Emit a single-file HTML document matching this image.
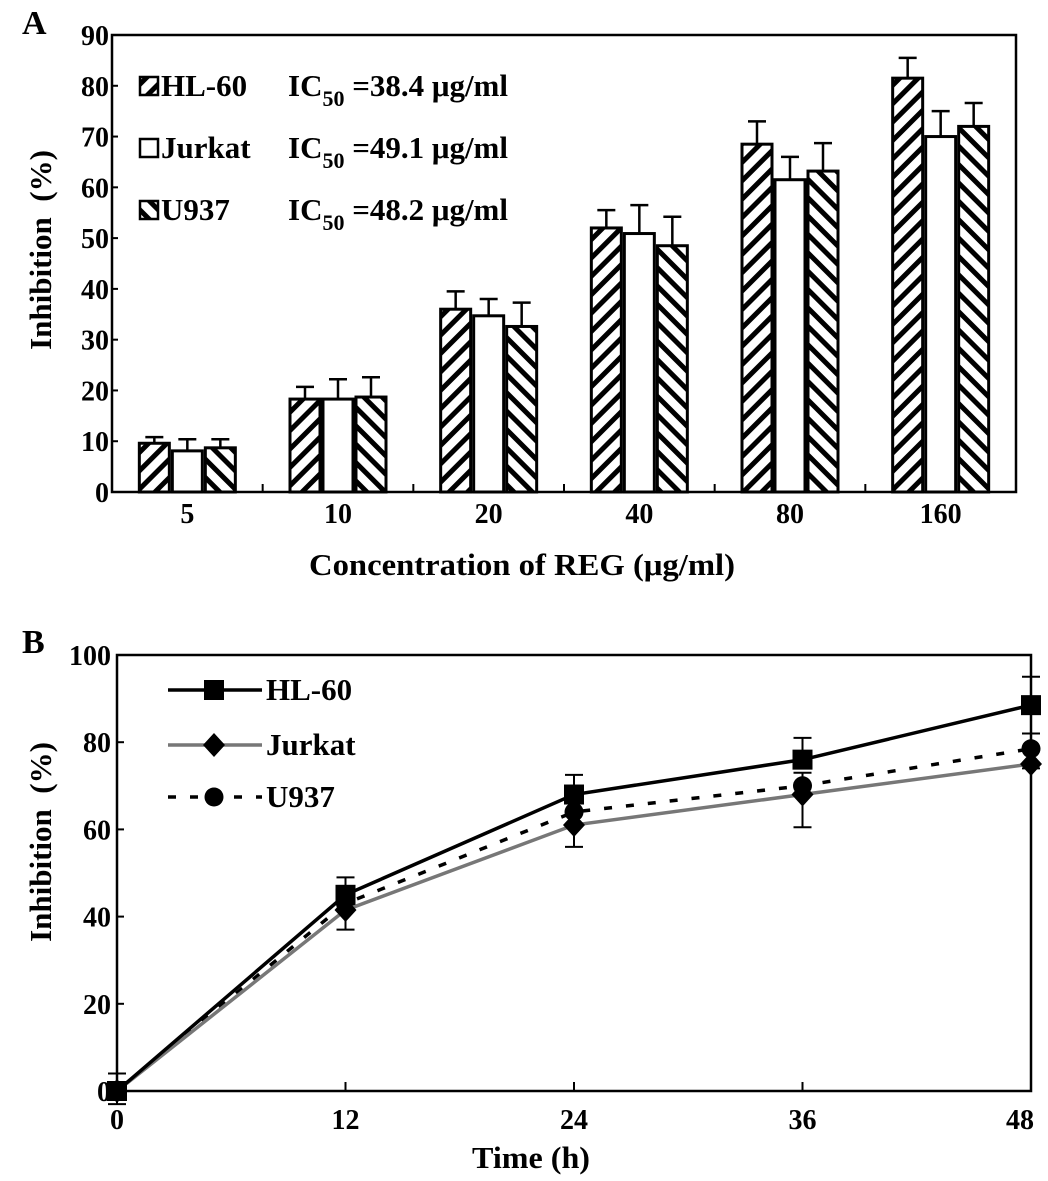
<!DOCTYPE html>
<html><head><meta charset="utf-8"><style>
html,body{margin:0;padding:0;background:#fff;}
svg{display:block;font-family:"Liberation Serif",serif;font-weight:bold;}
</style></head><body>
<svg id="fig" width="1048" height="1181" viewBox="0 0 1048 1181" xmlns="http://www.w3.org/2000/svg">
<defs>
<pattern id="hatchF" patternUnits="userSpaceOnUse" width="13" height="13" patternTransform="rotate(45)">
<rect width="13" height="13" fill="#fff"/><rect x="0" y="0" width="5" height="13" fill="#000"/></pattern>
<pattern id="hatchB" patternUnits="userSpaceOnUse" width="13" height="13" patternTransform="rotate(-45)">
<rect width="13" height="13" fill="#fff"/><rect x="0" y="0" width="5" height="13" fill="#000"/></pattern>
</defs>
<g id="panelA"></g>
<g id="panelB"></g>
</svg>
<script>
// Panel A data
const catsA = ["5","10","20","40","80","160"];
const hl60A = [9.6,18.3,36,52,68.5,81.5];
const hl60AErr = [1.2,2.4,3.5,3.5,4.5,4];
const jurkatA = [8.1,18.3,34.7,50.9,61.5,70];
const jurkatAErr = [2.3,3.9,3.3,5.6,4.5,5];
const u937A = [8.7,18.7,32.6,48.5,63.2,72];
const u937AErr = [1.7,3.9,4.7,5.7,5.5,4.6];
const yTicksA = [0,10,20,30,40,50,60,70,80,90];
// Panel B data
const timesB = [0,12,24,36,48];
const hl60B = [0,45,68,76,88.5];
const hl60BErr = [4,4,4.5,5,6.5];
const jurkatB = [0,41.5,61,68,75];
const jurkatBErr = [3,4.5,5,7.5,1];
const u937B = [0,43,64,70,78.5];
const u937BErr = [2,3,3,3,3.5];
const yTicksB = [0,20,40,60,80,100];

const NS="http://www.w3.org/2000/svg";
function mk(tag,attrs,parent,text){const e=document.createElementNS(NS,tag);for(const k in attrs)e.setAttribute(k,attrs[k]);if(text!==undefined)e.textContent=text;parent.appendChild(e);return e;}

// ---------- Panel A ----------
const A=document.getElementById('panelA');
const aL=112,aR=1016,aT=35,aB=492;
const yA=v=>aB-(v/90)*(aB-aT);
const step=(aR-aL)/catsA.length;
const xA=i=>aL+step*(i+0.5);
let t=mk('text',{x:22,y:34,'font-size':34},A,'A');


yTicksA.forEach(v=>{
  const l=mk('line',{x1:aL,x2:aL+6,y1:yA(v),y2:yA(v),stroke:'#000','stroke-width':2},A);
  
  
  const tx=mk('text',{x:aL-3,y:yA(v)+10,'font-size':28,'text-anchor':'end'},A,String(v));
  
  
});
for(let i=1;i<catsA.length;i++){
  const l=mk('line',{x1:aL+step*i,x2:aL+step*i,y1:aB,y2:aB-8,stroke:'#000','stroke-width':2},A);
  
  
}
const seriesA=[[hl60A,hl60AErr,'url(#hatchF)','hl60'],[jurkatA,jurkatAErr,'#fff','jurkat'],[u937A,u937AErr,'url(#hatchB)','u937']];
const bw=33;
catsA.forEach((c,i)=>{
  seriesA.forEach((s,j)=>{
    const cx=xA(i)+(j-1)*bw;
    const v=s[0][i],e=s[1][i];
    const el=mk('line',{x1:cx,x2:cx,y1:yA(v),y2:yA(v+e),stroke:'#000','stroke-width':2.5},A);
    
    
    const cap=mk('line',{x1:cx-9,x2:cx+9,y1:yA(v+e),y2:yA(v+e),stroke:'#000','stroke-width':2.5},A);
    
    
    const r=mk('rect',{x:cx-bw/2+1.5,y:yA(v),width:bw-3,height:aB-yA(v),fill:s[2],stroke:'#000','stroke-width':3},A);
    
    
  });
  const tx=mk('text',{x:xA(i),y:523,'font-size':28,'text-anchor':'middle'},A,c);
  
  
});
let fr=mk('rect',{x:aL,y:aT,width:aR-aL,height:aB-aT,fill:'none',stroke:'#000','stroke-width':2.5},A);


t=mk('text',{x:522,y:575,'font-size':31,'text-anchor':'middle',textLength:426,lengthAdjust:'spacingAndGlyphs'},A,'Concentration of REG (μg/ml)');


t=mk('text',{x:0,y:0,'font-size':31,'text-anchor':'middle','xml:space':'preserve',style:'white-space:pre',transform:'translate(51,250) rotate(-90)'},A,'Inhibition  (%)');


const legA=[['url(#hatchF)','HL-60','38.4'],['#fff','Jurkat','49.1'],['url(#hatchB)','U937','48.2']];
legA.forEach((L,k)=>{
  const y=86+k*62;
  const g=mk('g',{},A);
  
  
  mk('rect',{x:140,y:y-9,width:18,height:18,fill:L[0],stroke:'#000','stroke-width':2.5},g);
  mk('text',{x:161,y:y+10,'font-size':31},g,L[1]);
  const tx=mk('text',{x:288,y:y+10,'font-size':31},g);
  mk('tspan',{},tx,'IC');
  mk('tspan',{'font-size':22,dy:10},tx,'50');
  mk('tspan',{dy:-10},tx,' =' + L[2] + ' μg/ml');
});

// ---------- Panel B ----------
const B=document.getElementById('panelB');
const bL=117,bR=1031,bT=655,bB=1091;
const xB=v=>bL+(v/48)*(bR-bL);
const yB=v=>bB-(v/100)*(bB-bT);
t=mk('text',{x:22,y:653,'font-size':34},B,'B');


yTicksB.forEach(v=>{
  const l=mk('line',{x1:bL,x2:bL+7,y1:yB(v),y2:yB(v),stroke:'#000','stroke-width':2},B);
  
  
  const tx=mk('text',{x:bL-6,y:yB(v)+10,'font-size':28,'text-anchor':'end'},B,String(v));
  
  
});
timesB.forEach(v=>{
  const l=mk('line',{x1:xB(v),x2:xB(v),y1:bB,y2:bB-9,stroke:'#000','stroke-width':2},B);
  
  
  const tx=mk('text',{x:Math.min(xB(v),1020),y:1129,'font-size':28,'text-anchor':'middle'},B,String(v));
  
  
});
fr=mk('rect',{x:bL,y:bT,width:bR-bL,height:bB-bT,fill:'none',stroke:'#000','stroke-width':2.5},B);


t=mk('text',{x:531,y:1168,'font-size':31,'text-anchor':'middle',textLength:118,lengthAdjust:'spacingAndGlyphs'},B,'Time (h)');


t=mk('text',{x:0,y:0,'font-size':31,'text-anchor':'middle','xml:space':'preserve',style:'white-space:pre',transform:'translate(51,842) rotate(-90)'},B,'Inhibition  (%)');



function marker(g,type,x,y){
  if(type==='sq') mk('rect',{x:x-10,y:y-10,width:20,height:20,fill:'#000'},g);
  else if(type==='dia') mk('polygon',{points:`${x},${y-12} ${x+11},${y} ${x},${y+12} ${x-11},${y}`,fill:'#000'},g);
  else mk('circle',{cx:x,cy:y,r:9.5,fill:'#000'},g);
}
const seriesB=[
  [u937B,u937BErr,'#000','8,14','circ','u937',1],
  [jurkatB,jurkatBErr,'#777',null,'dia','jurkat',-1],
  [hl60B,hl60BErr,'#000',null,'sq','hl60',1]];
seriesB.forEach(s=>{
  const g=mk('g',{},B);
  
  
  const pts=timesB.map((tm,i)=>xB(tm)+','+yB(s[0][i])).join(' ');
  const pl=mk('polyline',{points:pts,fill:'none',stroke:s[2],'stroke-width':3.5},g);
  if(s[3]) pl.setAttribute('stroke-dasharray',s[3]);
  timesB.forEach((tm,i)=>{
    const x=xB(tm),v=s[0][i],e=s[1][i]*s[6];
    const ye=yB(v+e);
    mk('line',{x1:x,x2:x,y1:yB(v),y2:ye,stroke:'#000','stroke-width':2},g);
    mk('line',{x1:x-9,x2:x+9,y1:ye,y2:ye,stroke:'#000','stroke-width':2},g);
    marker(g,s[4],x,yB(v));
  });
});
const legB=[['HL-60','#000',null,'sq',690],['Jurkat','#777',null,'dia',745],['U937','#000','8,14','circ',797]];
legB.forEach(L=>{
  const g=mk('g',{},B);
  
  
  const ln=mk('line',{x1:168,x2:262,y1:L[4],y2:L[4],stroke:L[1],'stroke-width':3.5},g);
  if(L[2]) ln.setAttribute('stroke-dasharray',L[2]);
  marker(g,L[3],214,L[4]);
  mk('text',{x:266,y:L[4]+10,'font-size':31},g,L[0]);
});
</script>
</body></html>
